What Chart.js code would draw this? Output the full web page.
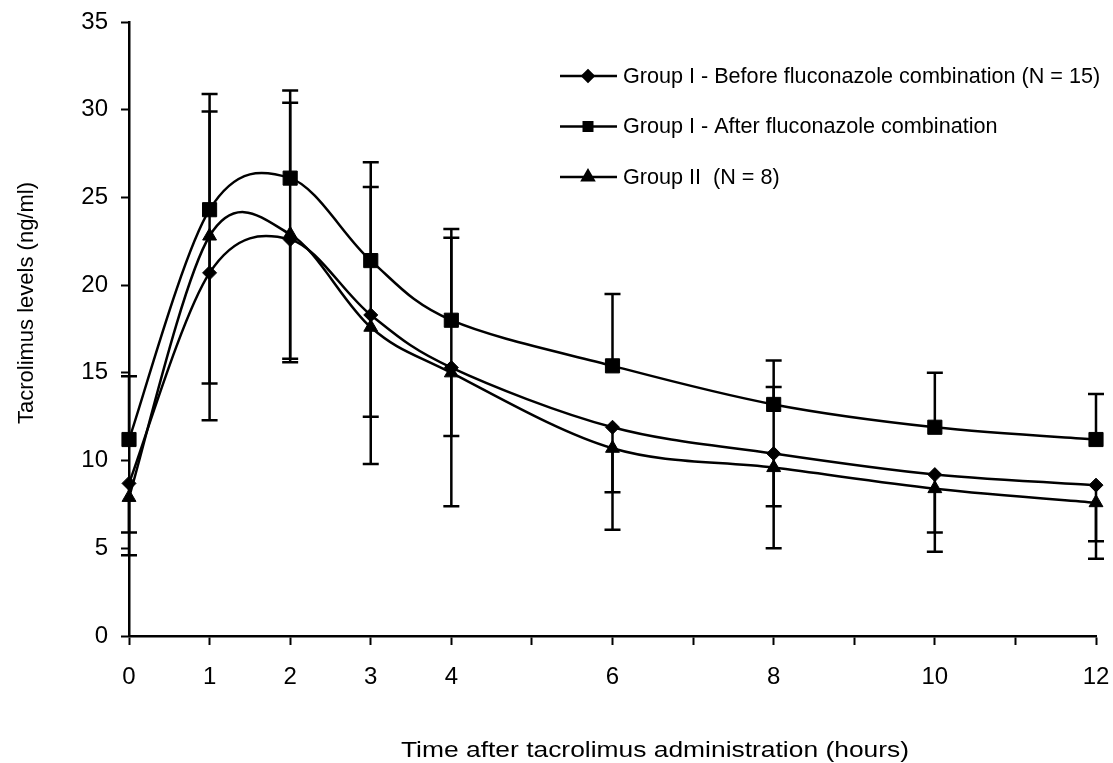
<!DOCTYPE html>
<html>
<head>
<meta charset="utf-8">
<title>Tacrolimus levels</title>
<script src="https://cdn.jsdelivr.net/npm/chart.js@4.4.0/dist/chart.umd.min.js"></script>
<style>
  html, body { margin: 0; padding: 0; background: #fff; }
  #wrap { width: 1113px; height: 763px; }
</style>
</head>
<body>
<div id="wrap"><canvas id="tacroChart" width="1113" height="763"></canvas></div>
<script>
// time points (hours) and the labelled ones on the x axis
const hours = [0, 1, 2, 3, 4, 6, 8, 10, 12];
const xTickLabels = ['0', '1', '2', '3', '4', '6', '8', '10', '12'];

// mean tacrolimus levels (ng/ml)
const beforeMeans = [8.7, 20.7, 22.6, 18.3, 15.3, 11.9, 10.4, 9.2, 8.6];
const afterMeans = [11.2, 24.3, 26.1, 21.4, 18.0, 15.4, 13.2, 11.9, 11.2];
const group2Means = [7.9, 22.8, 22.9, 17.6, 15.0, 10.7, 9.6, 8.4, 7.6];

// one-sided error bars (SD), null = none drawn
const afterErrUp = [3.6, 6.6, 5.0, 5.6, 5.2, 4.1, 2.5, 3.1, 2.6];
const beforeErrUp = [null, 9.2, 7.8, 7.3, 7.4, null, 3.8, null, null];
const beforeErrDown = [4.1, 8.4, 7.0, 8.5, 7.9, 5.85, 5.4, 4.4, 4.2];
const group2ErrDown = [2.0, 8.4, 7.1, 5.1, 3.6, 2.5, 2.2, 2.5, 2.2];

const legendLabels = [
    'Group I - Before fluconazole combination (N = 15)',
    'Group I - After fluconazole combination',
    'Group II  (N = 8)'
];

const FONT = '"Liberation Sans", Arial, sans-serif';

function toPoints(values) {
    return hours.map((h, i) => ({ x: h, y: values[i] }));
}

// spreadsheet-style smoothing: control points at 1/6 of neighbour span
const smoothPlugin = {
    id: 'smoothLines',
    beforeDatasetDraw(chart, args) {
        const pts = args.meta.data;
        pts.forEach((p, i) => {
            const prev = pts[i - 1] || p;
            const next = pts[i + 1] || p;
            const dx = (next.x - prev.x) / 6;
            const dy = (next.y - prev.y) / 6;
            p.cp1x = p.x - dx;
            p.cp1y = p.y - dy;
            p.cp2x = p.x + dx;
            p.cp2y = p.y + dy;
        });
        args.meta.dataset._pointsUpdated = true;
    }
};

const errorBarPlugin = {
    id: 'errorBars',
    beforeDatasetsDraw(chart) {
        const { ctx, scales: { x, y } } = chart;
        ctx.save();
        ctx.strokeStyle = '#000';
        ctx.lineWidth = 2.5;
        chart.data.datasets.forEach(ds => {
            ds.data.forEach((pt, i) => {
                const px = x.getPixelForValue(pt.x);
                const py = y.getPixelForValue(pt.y);
                const ends = [];
                if (ds.errUp && ds.errUp[i] != null) ends.push(pt.y + ds.errUp[i]);
                if (ds.errDown && ds.errDown[i] != null) ends.push(pt.y - ds.errDown[i]);
                ends.forEach(v => {
                    const pe = y.getPixelForValue(v);
                    ctx.beginPath();
                    ctx.moveTo(px, py);
                    ctx.lineTo(px, pe);
                    ctx.moveTo(px - 8, pe);
                    ctx.lineTo(px + 8, pe);
                    ctx.stroke();
                });
            });
        });
        ctx.restore();
    }
};

const legendAndTitles = {
    id: 'legendAndTitles',
    afterDraw(chart) {
        const ctx = chart.ctx;
        ctx.save();
        ctx.fillStyle = '#000';
        ctx.strokeStyle = '#000';

        // legend
        const rows = [76, 126.5, 177];
        const legendRadius = [5.5, 6, 6.5];
        chart.data.datasets.forEach((ds, i) => {
            const ry = rows[i];
            ctx.lineWidth = 2.5;
            ctx.beginPath();
            ctx.moveTo(560, ry);
            ctx.lineTo(617, ry);
            ctx.stroke();
            Chart.helpers.drawPoint(ctx, {
                pointStyle: ds.pointStyle,
                radius: legendRadius[i],
                rotation: 0,
                borderWidth: 1
            }, 588, ry);
            ctx.fill();
            ctx.font = '21.6px ' + FONT;
            ctx.textAlign = 'left';
            ctx.textBaseline = 'middle';
            ctx.fillText(legendLabels[i], 623, ry + 1);
        });

        // x axis title
        ctx.save();
        ctx.translate(655, 751);
        ctx.scale(1.2, 1);
        ctx.font = '22px ' + FONT;
        ctx.textAlign = 'center';
        ctx.textBaseline = 'middle';
        ctx.fillText('Time after tacrolimus administration (hours)', 0, 0);
        ctx.restore();

        // y axis title
        ctx.save();
        ctx.translate(27, 303);
        ctx.rotate(-Math.PI / 2);
        ctx.font = '22px ' + FONT;
        ctx.textAlign = 'center';
        ctx.textBaseline = 'middle';
        ctx.fillText('Tacrolimus levels (ng/ml)', 0, 0);
        ctx.restore();

        ctx.restore();
    }
};

function seriesStyle(style, radius) {
    return {
        borderColor: '#000',
        backgroundColor: '#000',
        borderWidth: 2.5,
        pointStyle: style,
        pointRadius: radius,
        pointHoverRadius: radius,
        pointBackgroundColor: '#000',
        pointBorderColor: '#000',
        pointBorderWidth: 1,
        tension: 0.4,
        fill: false,
        clip: false
    };
}

new Chart(document.getElementById('tacroChart').getContext('2d'), {
    type: 'line',
    data: {
        datasets: [
            Object.assign({
                label: legendLabels[0],
                data: toPoints(beforeMeans),
                errUp: beforeErrUp,
                errDown: beforeErrDown
            }, seriesStyle('rectRot', 7)),
            Object.assign({
                label: legendLabels[1],
                data: toPoints(afterMeans),
                errUp: afterErrUp
            }, seriesStyle('rect', 10)),
            Object.assign({
                label: legendLabels[2],
                data: toPoints(group2Means),
                errDown: group2ErrDown
            }, seriesStyle('triangle', 8))
        ]
    },
    options: {
        responsive: false,
        animation: false,
        devicePixelRatio: 1,
        layout: { padding: { top: 22, right: 17, bottom: 0, left: 0 } },
        plugins: {
            legend: { display: false },
            tooltip: { enabled: false }
        },
        scales: {
            x: {
                type: 'linear',
                min: 0,
                max: 12,
                border: { display: true, color: '#000', width: 2.5 },
                grid: { drawOnChartArea: false, drawTicks: true, tickLength: 9, tickWidth: 2, tickColor: '#000' },
                ticks: {
                    stepSize: 1,
                    autoSkip: false,
                    maxRotation: 0,
                    padding: 18,
                    color: '#000',
                    font: { family: FONT, size: 24 },
                    callback: value => xTickLabels.includes(String(value)) ? String(value) : ''
                },
                afterFit(scale) {
                    scale.height = 127;
                    scale.paddingLeft = 0;
                    scale.paddingRight = 0;
                }
            },
            y: {
                min: 0,
                max: 35,
                border: { display: true, color: '#000', width: 2.5 },
                grid: { drawOnChartArea: false, drawTicks: true, tickLength: 8, tickWidth: 2, tickColor: '#000' },
                ticks: {
                    stepSize: 5,
                    padding: 13,
                    color: '#000',
                    font: { family: FONT, size: 24 }
                },
                afterFit(scale) {
                    scale.width = 129;
                    scale.paddingTop = 0;
                    scale.paddingBottom = 0;
                }
            }
        }
    },
    plugins: [smoothPlugin, errorBarPlugin, legendAndTitles]
});
</script>
</body>
</html>
